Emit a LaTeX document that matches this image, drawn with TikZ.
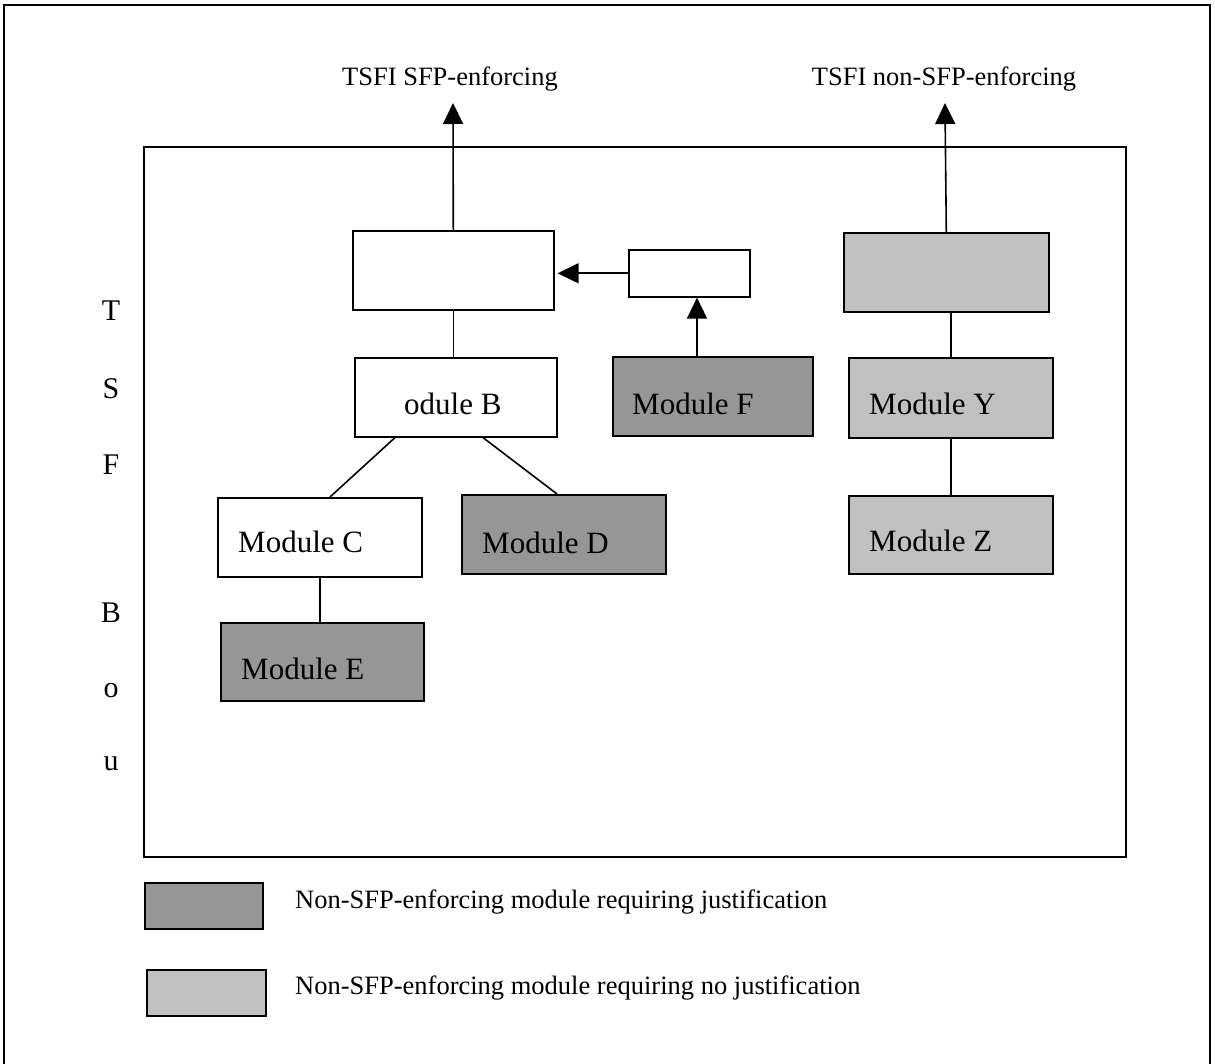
\documentclass[tikz,border=0pt]{standalone}
\usepackage{fontspec}
\setmainfont{Liberation Serif}
\usetikzlibrary{arrows.meta,calc}
\definecolor{darkmod}{HTML}{969696}
\definecolor{lightmod}{HTML}{C0C0C0}
\begin{document}
\begin{tikzpicture}[x=1pt,y=-1pt,
  box/.style={draw, line width=1.6pt, inner sep=0pt, anchor=north west},
  dk/.style={box, fill=darkmod},
  lt/.style={box, fill=lightmod},
  lbl/.style={anchor=base west, inner sep=0pt, font=\fontsize{31}{37}\selectfont},
  head/.style={anchor=base, inner sep=0pt, font=\fontsize{26.5}{32}\selectfont},
  legtext/.style={anchor=base west, inner sep=0pt, font=\fontsize{26.5}{32}\selectfont},
  side/.style={anchor=base, inner sep=0pt, font=\fontsize{30}{36}\selectfont},
  conn/.style={line width=1.6pt},
  arr/.style={line width=1.6pt, -{Triangle[width=20pt,length=21pt]}}
]
\useasboundingbox (0,0) rectangle (1215,1064);
\fill[white] (0,0) rectangle (1215,1064);
\draw[line width=2pt] (4,1064) -- (4,5) -- (1210,5) -- (1210,1064);
\node[box, minimum width=982pt, minimum height=710pt] (tsf) at (143,146) {};

% headings
\node[head] (h1) at (450,86) {TSFI SFP-enforcing};
\node[head] (h2) at (944,86) {TSFI non-SFP-enforcing};
\coordinate (t1) at (453,103);
\coordinate (t2) at (945,103);

% boxes
\node[box, minimum width=201pt, minimum height=79pt] (A) at (352,230) {};
\node[box, minimum width=121pt, minimum height=47pt] (S) at (628,249) {};
\node[box, minimum width=202pt, minimum height=79pt] (B) at (354,357) {};
\node[dk, minimum width=200pt, minimum height=79pt] (F) at (612,356) {};
\node[lt, minimum width=205pt, minimum height=79pt] (R) at (843,232) {};
\node[lt, minimum width=204pt, minimum height=80pt] (Y) at (848,357) {};
\node[lt, minimum width=204pt, minimum height=78pt] (Z) at (848,495) {};
\node[box, minimum width=204pt, minimum height=79pt] (C) at (217,497) {};
\node[dk, minimum width=204pt, minimum height=79pt] (D) at (461,494) {};
\node[dk, minimum width=203pt, minimum height=78pt] (E) at (220,622) {};

% box labels
\node[lbl] (lB) at ($(B.south west)+(50,-23)$) {odule B};
\node[lbl] (lC) at ($(C.south west)+(21,-25)$) {Module C};
\node[lbl] (lD) at ($(D.south west)+(21,-21)$) {Module D};
\node[lbl] (lE) at ($(E.south west)+(21,-22)$) {Module E};
\node[lbl] (lF) at ($(F.south west)+(20,-22)$) {Module F};
\node[lbl] (lY) at ($(Y.south west)+(21,-24)$) {Module Y};
\node[lbl] (lZ) at ($(Z.south west)+(21,-23)$) {Module Z};

% connectors
\draw[arr] (A.north) -- (t1);
\draw[arr] (R.north) -- (t2);
\draw[arr, shorten >=3pt] (S.west) -- (S.west -| A.east);
\draw[arr] ([xshift=85pt]F.north west) -- ([xshift=69pt]S.south west);
\draw[conn] (A.south) -- (A.south |- B.north);
\draw[conn] (Y.north) -- (Y.north |- R.south);
\draw[conn] (Y.south) -- (Z.north);
\draw[conn] (C.south) -- (C.south |- E.north);
\draw[conn] ([xshift=41pt]B.south west) -- ([xshift=113pt]C.north west);
\draw[conn] ([xshift=129pt]B.south west) -- ([xshift=96pt]D.north west);

% side letters
\node[side] (sT) at (111,321) {T};
\node[side] (sS) at (111,398) {S};
\node[side] (sF) at (111,474) {F};
\node[side] (sB) at (111,622) {B};
\node[side] (so) at (111,697) {o};
\node[side] (su) at (111,770) {u};

% legend
\node[dk, minimum width=118pt, minimum height=46pt] (L1) at (144,882) {};
\node[lt, minimum width=119pt, minimum height=46pt] (L2) at (146,969) {};
\node[legtext] (t1l) at (295,908) {Non-SFP-enforcing module requiring justification};
\node[legtext] (t2l) at (295,994) {Non-SFP-enforcing module requiring no justification};
\end{tikzpicture}
\end{document}
